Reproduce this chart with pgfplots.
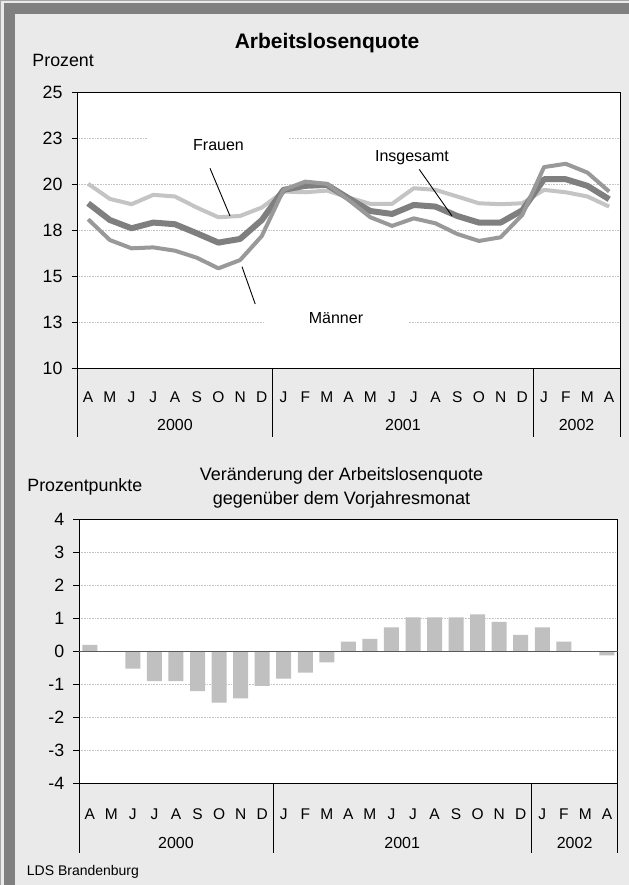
\documentclass[border=0pt]{standalone}
\usepackage{fontspec}
\setmainfont{Liberation Sans}
\usepackage{pgfplots}
\pgfplotsset{compat=1.18}
\definecolor{bg}{HTML}{EAEAEA}
\definecolor{framec}{HTML}{808080}
\definecolor{frauen}{HTML}{C4C4C4}
\definecolor{insg}{HTML}{7F7F7F}
\definecolor{maenner}{HTML}{999999}
\definecolor{barc}{HTML}{C0C0C0}
\definecolor{gridc}{HTML}{C4C4C4}
\definecolor{zeroc}{HTML}{5A5A5A}

\pgfplotstableread{
i frauen insg maenner
0  20.04 18.98 18.11
1  19.22 18.07 16.98
2  18.93 17.62 16.53
3  19.44 17.93 16.58
4  19.35 17.84 16.40
5  18.75 17.35 16.02
6  18.22 16.84 15.44
7  18.29 17.04 15.89
8  18.75 18.07 17.20
9  19.62 19.71 19.71
10 19.58 19.93 20.16
11 19.67 19.98 20.04
12 19.29 19.25 19.16
13 18.95 18.56 18.22
14 18.95 18.40 17.75
15 19.80 18.89 18.16
16 19.71 18.80 17.89
17 19.35 18.29 17.31
18 18.98 17.93 16.93
19 18.93 17.93 17.13
20 18.98 18.60 18.35
21 19.71 20.29 20.95
22 19.58 20.29 21.13
23 19.35 19.93 20.65
24 18.80 19.20 19.62
}\quote

\pgfplotstableread{
i diff
0  0.20
1  0.00
2  -0.52
3  -0.90
4  -0.90
5  -1.20
6  -1.55
7  -1.42
8  -1.04
9  -0.82
10 -0.64
11 -0.33
12 0.30
13 0.38
14 0.73
15 1.03
16 1.03
17 1.03
18 1.12
19 0.90
20 0.50
21 0.73
22 0.30
23 0.00
24 -0.12
}\diff

\pgfplotsset{
  common/.style={
    scale only axis,
    anchor=south west,
    xmin=-0.5, xmax=24.5,
    axis background/.style={fill=white},
    xtick={0,...,24},
    xticklabels={A,M,J,J,A,S,O,N,D,J,F,M,A,M,J,J,A,S,O,N,D,J,F,M,A},
    tick align=outside,
    tick pos=left,
    major tick length=5.6bp,
    xtick style={draw=none},
    ytick style={black, line width=0.6bp},
    ymajorgrids,
    grid style={color=gridc, line width=1.4bp, dash pattern=on 0.8bp off 0.8bp},
    clip=false,
    axis line style={black, line width=0.8bp},
    yticklabel style={font=\fontsize{17.8bp}{20bp}\selectfont, anchor=east, inner sep=0pt, xshift=-9bp},
    xticklabel style={font=\fontsize{15.5bp}{18bp}\selectfont, anchor=center, inner sep=0pt},
  }
}

\begin{document}
\begin{tikzpicture}[x=1bp,y=1bp]
\fill[bg] (0,0) rectangle (629,885);
\fill[framec] (4,0) rectangle (15,882);
\fill[framec] (4,871) rectangle (629,882);
\draw[color=framec!70, line width=1bp] (0.5,0) -- (0.5,884.5) -- (628.5,884.5);

% ---------- top chart
\begin{axis}[common,
  at={(77.3bp,516.7bp)}, width=542.7bp, height=275.6bp,
  ymin=10, ymax=25,
  ytick={10,12.5,15,17.5,20,22.5,25},
  yticklabels={10,13,15,18,20,23,25},
  xticklabel style={yshift=-23.4bp},
]
\addplot[frauen, line width=4bp, line join=round] table[x=i, y=frauen] {\quote};
\addplot[insg, line width=6bp, line join=round] table[x=i, y=insg] {\quote};
\addplot[maenner, line width=4bp, line join=round] table[x=i, y=maenner] {\quote};
\draw[line width=0.8bp] (axis cs:-0.5,10) -- ++(0bp,-68.4bp);
\draw[line width=0.8bp] (axis cs:8.5,10) -- ++(0bp,-68.4bp);
\draw[line width=0.8bp] (axis cs:20.5,10) -- ++(0bp,-68.4bp);
\draw[line width=0.8bp] (axis cs:24.5,10) -- ++(0bp,-68.4bp);
\node[font=\fontsize{16bp}{18bp}\selectfont] at (axis cs:4,10) [yshift=-56.7bp] {2000};
\node[font=\fontsize{16bp}{18bp}\selectfont] at (axis cs:14.5,10) [yshift=-56.7bp] {2001};
\node[font=\fontsize{16bp}{18bp}\selectfont] at (axis cs:22.5,10) [yshift=-56.7bp] {2002};
\end{axis}

\node[font=\bfseries\fontsize{21bp}{23bp}\selectfont] at (327,841.7) {Arbeitslosenquote};
\node[font=\fontsize{17.8bp}{20bp}\selectfont, anchor=west, inner sep=0pt] at (32.3,825) {Prozent};
\node[font=\fontsize{16bp}{18bp}\selectfont, fill=white, inner xsep=45bp, inner ysep=3bp] at (218.5,740) {Frauen};
\node[font=\fontsize{16bp}{18bp}\selectfont] at (412,727.7) {Insgesamt};
\node[font=\fontsize{16bp}{18bp}\selectfont, fill=white, inner xsep=45bp, inner ysep=3bp] at (336,566.7) {Männer};
\draw[line width=0.9bp] (210,716.7) -- (230,669);
\draw[line width=0.9bp] (242,618.3) -- (255.2,581);
\draw[line width=0.9bp] (419.2,715.7) -- (452,669);

% ---------- bottom chart
\begin{axis}[common,
  at={(79bp,101.3bp)}, width=538.7bp, height=264.4bp,
  ymin=-4, ymax=4,
  ytick={-4,-3,-2,-1,0,1,2,3,4},
  yticklabels={-4,-3,-2,-1,0,1,2,3,4},
  xticklabel style={yshift=-25.3bp},
]
\addplot[ybar, bar width=15bp, fill=barc, draw=none] table[x=i, y=diff] {\diff};
\draw[zeroc, line width=1bp] (axis cs:-0.5,0) -- (axis cs:24.5,0);
\draw[line width=0.8bp] (axis cs:-0.5,-4) -- ++(0bp,-69.3bp);
\draw[line width=0.8bp] (axis cs:8.5,-4) -- ++(0bp,-69.3bp);
\draw[line width=0.8bp] (axis cs:20.5,-4) -- ++(0bp,-69.3bp);
\draw[line width=0.8bp] (axis cs:24.5,-4) -- ++(0bp,-69.3bp);
\node[font=\fontsize{16bp}{18bp}\selectfont] at (axis cs:4,-4) [yshift=-59bp] {2000};
\node[font=\fontsize{16bp}{18bp}\selectfont] at (axis cs:14.5,-4) [yshift=-59bp] {2001};
\node[font=\fontsize{16bp}{18bp}\selectfont] at (axis cs:22.5,-4) [yshift=-59bp] {2002};
\end{axis}

\node[font=\fontsize{17.8bp}{20bp}\selectfont, anchor=west, inner sep=0pt] at (27.2,398.3) {Prozentpunkte};
\node[font=\fontsize{18bp}{20bp}\selectfont] at (341.5,409) {Veränderung der Arbeitslosenquote};
\node[font=\fontsize{18bp}{20bp}\selectfont] at (341.5,385) {gegenüber dem Vorjahresmonat};
\node[font=\fontsize{14bp}{16bp}\selectfont, anchor=west, inner sep=0pt] at (26.7,12.7) {LDS Brandenburg};

\pgfresetboundingbox
\useasboundingbox (0,0) rectangle (629,885);
\end{tikzpicture}
\end{document}
